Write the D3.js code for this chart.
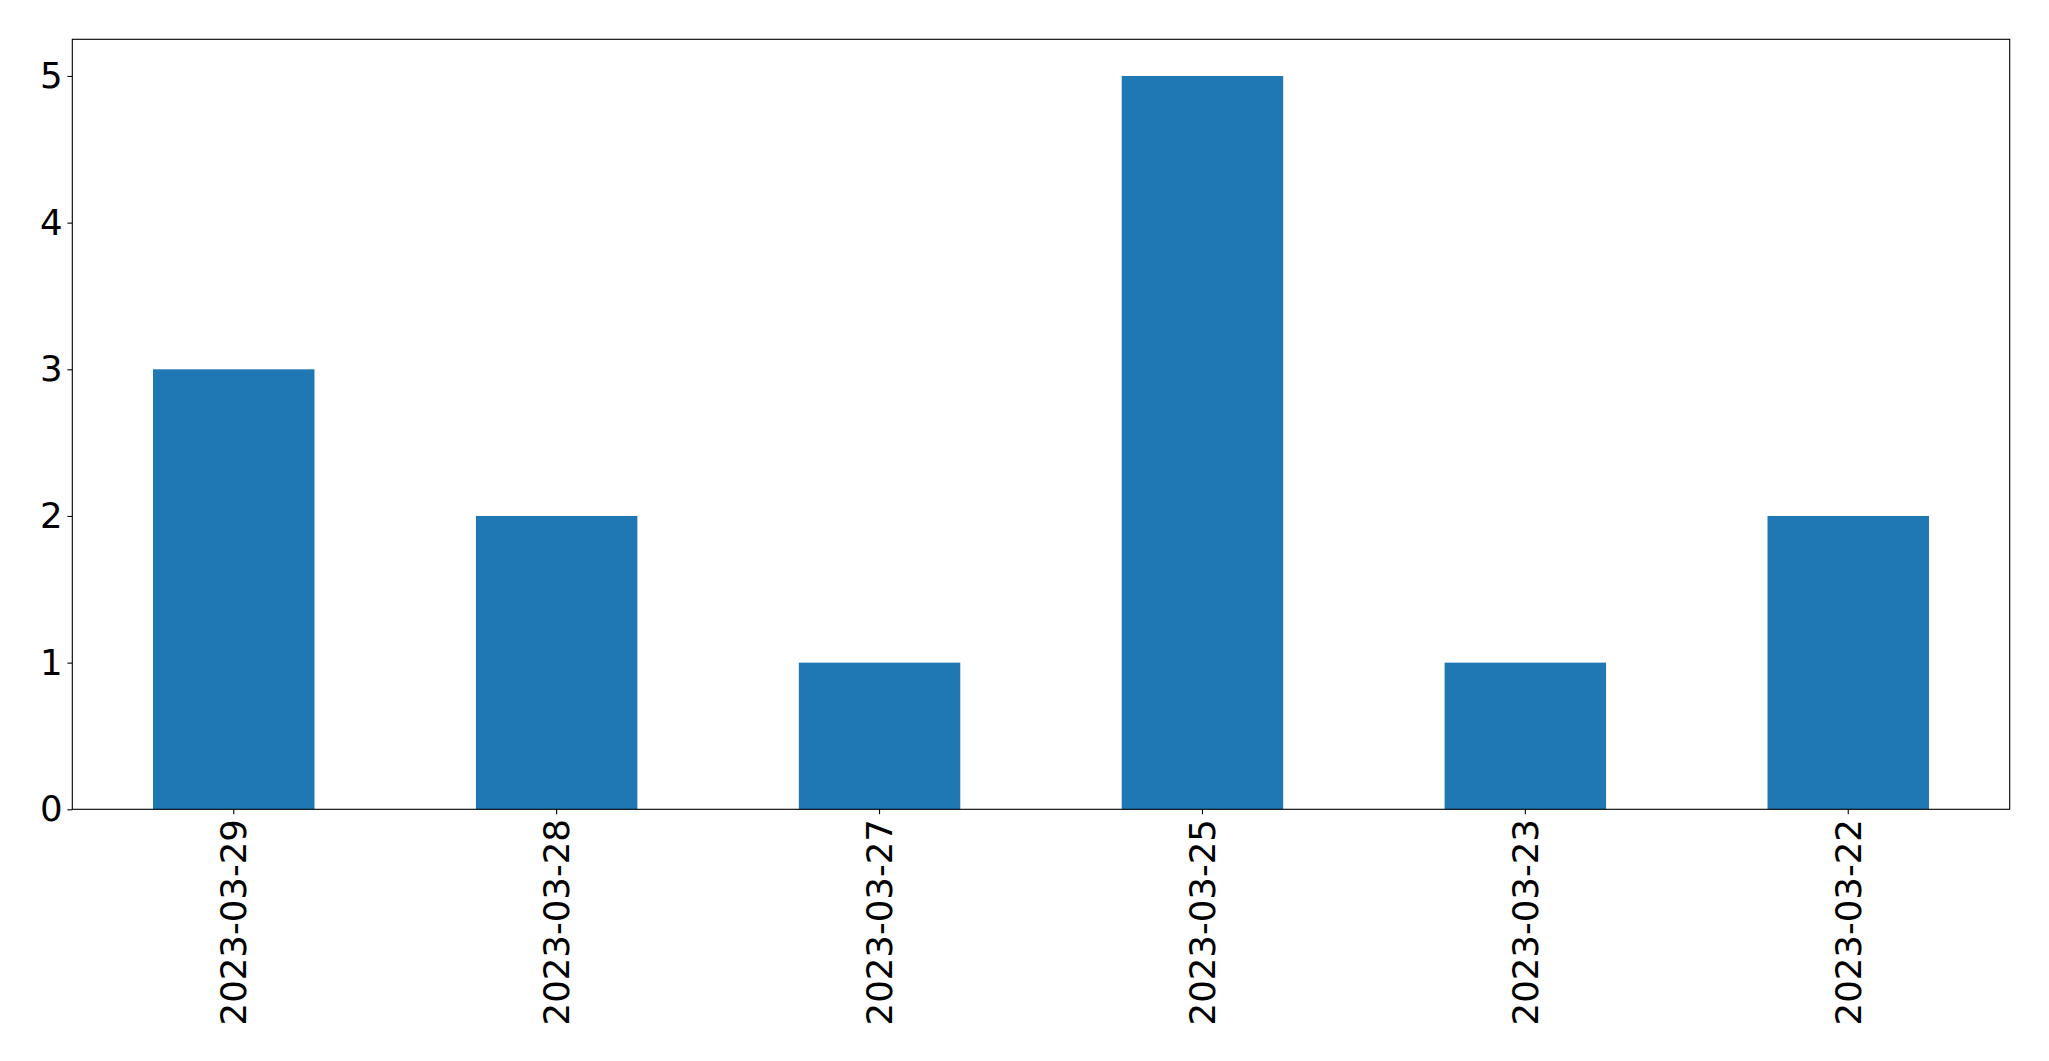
<!DOCTYPE html>
<html>
<head>
<meta charset="utf-8">
<script src="https://cdn.jsdelivr.net/npm/d3@7"></script>
<style>
  html, body { margin: 0; padding: 0; background: #fff; }
  svg { display: block; }
</style>
</head>
<body>
<script>
const categories = ["2023-03-29", "2023-03-28", "2023-03-27", "2023-03-25", "2023-03-23", "2023-03-22"];
const values = [3, 2, 1, 5, 1, 2];
const yTicks = [0, 1, 2, 3, 4, 5];

const W = 2049, H = 1061;
const plotLeft = 72.3, plotRight = 2009.7, plotTop = 39.3, plotBottom = 809.3;
const fontSize = 35.5;
const tickLen = 4.9, tickPad = 4.9;

const svg = d3.select("body").append("svg").attr("width", W).attr("height", H);

const x = d3.scaleBand().domain(categories).range([plotLeft, plotRight]).paddingInner(0.5).paddingOuter(0.25);
const y = d3.scaleLinear().domain([0, d3.max(values) * 1.05]).range([plotBottom, plotTop]);

svg.append("g").selectAll("rect").data(categories).join("rect")
  .attr("x", d => x(d))
  .attr("width", x.bandwidth())
  .attr("y", (d, i) => y(values[i]))
  .attr("height", (d, i) => y(0) - y(values[i]))
  .attr("fill", "#1f77b4");

const font = "'DejaVu Sans', sans-serif";

const yAxis = svg.append("g").attr("transform", `translate(${plotLeft},0)`)
  .call(d3.axisLeft(y).tickValues(yTicks).tickFormat(d3.format("d")).tickSize(tickLen).tickPadding(tickPad));
yAxis.select(".domain").remove();
yAxis.selectAll("line").attr("stroke", "#000").attr("stroke-width", 1.1);
yAxis.selectAll("text").attr("font-family", font).attr("font-size", fontSize).attr("fill", "#000");

const xAxis = svg.append("g").attr("transform", `translate(0,${plotBottom})`)
  .call(d3.axisBottom(x).tickSize(tickLen).tickPadding(tickPad));
xAxis.select(".domain").remove();
xAxis.selectAll("line").attr("stroke", "#000").attr("stroke-width", 1.1);
xAxis.selectAll("text")
  .attr("font-family", font).attr("font-size", fontSize).attr("fill", "#000")
  .attr("text-anchor", "end")
  .attr("dy", "0.35em")
  .attr("transform", `translate(0,${tickLen + tickPad}) rotate(-90)`)
  .attr("x", 0).attr("y", 0);

svg.append("rect")
  .attr("x", plotLeft).attr("y", plotTop)
  .attr("width", plotRight - plotLeft).attr("height", plotBottom - plotTop)
  .attr("fill", "none").attr("stroke", "#000").attr("stroke-width", 1.1);
</script>
</body>
</html>
